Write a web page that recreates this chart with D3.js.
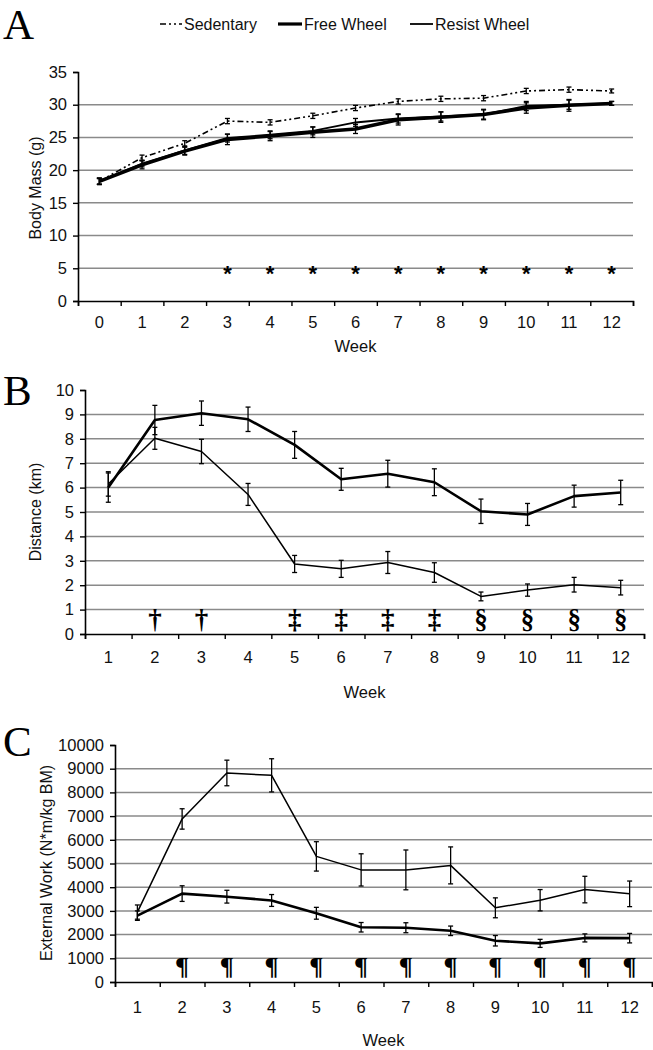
<!DOCTYPE html>
<html>
<head>
<meta charset="utf-8">
<script src="https://cdn.jsdelivr.net/npm/d3@7"></script>
<style>
  html, body { margin: 0; padding: 0; background: #fff; }
  svg { display: block; font-family: "Liberation Sans", Arial, sans-serif; }
</style>
</head>
<body>
<svg id="chart" width="653" height="1050"></svg>
<script>
// ---------- Panel A: body mass ----------
const weeksA = [0,1,2,3,4,5,6,7,8,9,10,11,12];
const sedMass    = [18.3,21.9,24.1,27.5,27.3,28.3,29.5,30.5,30.9,31.0,32.1,32.3,32.1];
const sedErr     = [0.4,0.4,0.4,0.4,0.4,0.4,0.4,0.4,0.4,0.4,0.4,0.4,0.3];
const freeMass   = [18.3,20.8,22.9,24.7,25.2,25.8,26.3,27.7,28.1,28.5,29.5,29.9,30.2];
const freeMassErr= [0.5,0.6,0.6,0.8,0.7,0.8,0.7,0.8,0.8,0.8,0.8,0.9,0.3];
const resistMass = [18.3,21.0,23.0,24.9,25.4,26.0,27.3,27.9,28.2,28.5,29.8,30.0,30.2];
const resistMassErr=[0.5,0.5,0.6,0.6,0.6,0.6,0.6,0.7,0.7,0.7,0.7,0.7,0.3];
const ticksA = [0,5,10,15,20,25,30,35];
const sigA = ["","","","*","*","*","*","*","*","*","*","*","*"];

// ---------- Panel B: distance ----------
const weeksB = [1,2,3,4,5,6,7,8,9,10,11,12];
const freeDist     = [6.0,8.77,9.05,8.8,7.75,6.34,6.57,6.22,5.03,4.9,5.65,5.8];
const freeDistErr  = [0.6,0.6,0.5,0.5,0.55,0.45,0.55,0.55,0.5,0.45,0.45,0.5];
const resistDist   = [6.15,8.02,7.48,5.72,2.87,2.67,2.93,2.52,1.54,1.8,2.02,1.9];
const resistDistErr= [0.5,0.45,0.5,0.45,0.35,0.35,0.45,0.4,0.18,0.25,0.3,0.3];
const ticksB = [0,1,2,3,4,5,6,7,8,9,10];
const sigB = ["","†","†","","‡","‡","‡","‡","§","§","§","§"];

// ---------- Panel C: external work ----------
const weeksC = [1,2,3,4,5,6,7,8,9,10,11,12];
const freeWork     = [2800,3730,3600,3440,2900,2310,2290,2160,1740,1630,1860,1850];
const freeWorkErr  = [200,330,270,250,250,200,210,200,220,170,170,200];
const resistWork   = [2950,6880,8820,8720,5300,4730,4730,4920,3130,3450,3900,3720];
const resistWorkErr= [300,430,540,700,620,680,840,780,420,450,560,540];
const ticksC = [0,1000,2000,3000,4000,5000,6000,7000,8000,9000,10000];
const sigC = ["","¶","¶","¶","¶","¶","¶","¶","¶","¶","¶","¶"];

// legend
const legendItems = ["Sedentary","Free Wheel","Resist Wheel"];

const svg = d3.select("#chart");
const FONT = '"Liberation Sans", Arial, sans-serif';
const SERIF = '"Liberation Serif", "Times New Roman", serif';
const FS = 16.5;

function panel(cfg) {
  const g = svg.append("g");
  const n = cfg.weeks.length;
  const x = d3.scaleBand().domain(cfg.weeks).range([cfg.x0, cfg.x1]).padding(0);
  const xb = d3.scaleLinear().domain([0, n]).range([cfg.x0, cfg.x1]);
  const y = d3.scaleLinear().domain([0, cfg.ymax]).range([cfg.yBottom, cfg.yTop]);

  // gridlines
  g.append("g").selectAll("line")
    .data(cfg.ticks.filter(t => t > 0 && t < cfg.ymax))
    .join("line")
    .attr("x1", cfg.x0).attr("x2", cfg.x1)
    .attr("y1", d => y(d)).attr("y2", d => y(d))
    .attr("stroke", "#8a8a8a").attr("stroke-width", 1.5);

  // y axis
  const ya = g.append("g").attr("transform", `translate(${cfg.x0},0)`)
    .call(d3.axisLeft(y).tickValues(cfg.ticks).tickSize(5).tickPadding(6).tickFormat(d3.format("d")));
  ya.select(".domain").attr("stroke", "#000").attr("stroke-width", 1.6);
  ya.selectAll(".tick line").attr("stroke", "#000").attr("stroke-width", 1.4);
  ya.selectAll("text").attr("font-size", FS).attr("font-family", FONT).attr("fill", "#111");

  // x axis: ticks at category boundaries
  const xa = g.append("g").attr("transform", `translate(0,${cfg.yBottom})`)
    .call(d3.axisBottom(xb).tickValues(d3.range(0, n + 1)).tickSize(5).tickFormat(""));
  xa.select(".domain").attr("stroke", "#000").attr("stroke-width", 1.6);
  xa.selectAll(".tick line").attr("stroke", "#000").attr("stroke-width", 1.4);
  const xl = g.append("g").attr("transform", `translate(0,${cfg.yBottom})`)
    .call(d3.axisBottom(x).tickSize(0).tickPadding(cfg.labelPad));
  xl.select(".domain").remove();
  xl.selectAll("text").attr("font-size", FS).attr("font-family", FONT).attr("fill", "#111");

  // axis titles
  g.append("text").attr("x", (cfg.x0 + cfg.x1) / 2).attr("y", cfg.weekY)
    .attr("text-anchor", "middle").attr("dominant-baseline", "central")
    .attr("font-size", FS).attr("font-family", FONT).attr("fill", "#111").text("Week");
  g.append("text").attr("transform", `translate(${cfg.ytX},${cfg.ytY}) rotate(-90)`)
    .attr("text-anchor", "middle").attr("dominant-baseline", "central")
    .attr("font-size", 16).attr("font-family", FONT).attr("fill", "#111").text(cfg.yTitle);

  // panel letter
  g.append("text").attr("x", 3).attr("y", cfg.letterY)
    .attr("font-size", 43).attr("font-family", SERIF).attr("fill", "#000").text(cfg.letter);

  // series
  const cx = w => x(w) + x.bandwidth() / 2;
  cfg.series.forEach(s => {
    const pts = cfg.weeks.map((w, i) => ({w, v: s.values[i], e: s.err[i]}));
    const line = d3.line().x(d => cx(d.w)).y(d => y(d.v));
    // error bars
    const eb = g.append("g");
    eb.selectAll("line.v").data(pts).join("line")
      .attr("x1", d => cx(d.w)).attr("x2", d => cx(d.w))
      .attr("y1", d => y(d.v - d.e)).attr("y2", d => y(d.v + d.e))
      .attr("stroke", "#000").attr("stroke-width", 1.3);
    [1, -1].forEach(sg => {
      eb.selectAll("line.c" + sg).data(pts).join("line")
        .attr("x1", d => cx(d.w) - 2.5).attr("x2", d => cx(d.w) + 2.5)
        .attr("y1", d => y(d.v + sg * d.e)).attr("y2", d => y(d.v + sg * d.e))
        .attr("stroke", "#000").attr("stroke-width", 1.3);
    });
    g.append("path").datum(pts).attr("d", line)
      .attr("fill", "none").attr("stroke", "#000")
      .attr("stroke-width", s.width)
      .attr("stroke-dasharray", s.dash || null)
      .attr("stroke-linejoin", "round");
  });

  // significance symbols
  g.append("g").selectAll("text").data(cfg.weeks.map((w, i) => ({w, s: cfg.sig[i]})).filter(d => d.s))
    .join("text")
    .attr("x", d => cx(d.w)).attr("y", cfg.sigY)
    .attr("text-anchor", "middle")
    .attr("font-size", cfg.sigSize).attr("font-weight", "bold")
    .attr("font-family", cfg.sigFont).attr("fill", "#000")
    .text(d => d.s);
}

// Panel A
panel({
  letter: "A", letterY: 39,
  weeks: weeksA, x0: 78, x1: 633, yTop: 72, yBottom: 301, ymax: 35, ticks: ticksA,
  labelPad: 15, weekY: 346, ytX: 35, ytY: 188, yTitle: "Body Mass (g)",
  series: [
    {values: sedMass, err: sedErr, width: 1.6, dash: "6,3,2,3,2,3"},
    {values: resistMass, err: resistMassErr, width: 2},
    {values: freeMass, err: freeMassErr, width: 3.5}
  ],
  sig: sigA, sigY: 281, sigSize: 22, sigFont: FONT
});

// Panel B
panel({
  letter: "B", letterY: 405,
  weeks: weeksB, x0: 85, x1: 644, yTop: 390, yBottom: 634, ymax: 10, ticks: ticksB,
  labelPad: 17, weekY: 692, ytX: 35, ytY: 512, yTitle: "Distance (km)",
  series: [
    {values: resistDist, err: resistDistErr, width: 1.5},
    {values: freeDist, err: freeDistErr, width: 2.6}
  ],
  sig: sigB, sigY: 628, sigSize: 27, sigFont: SERIF
});

// Panel C
panel({
  letter: "C", letterY: 756,
  weeks: weeksC, x0: 115, x1: 652, yTop: 745, yBottom: 982, ymax: 10000, ticks: ticksC,
  labelPad: 19, weekY: 1040, ytX: 46, ytY: 863, yTitle: "External Work (N*m/kg BM)",
  series: [
    {values: resistWork, err: resistWorkErr, width: 1.5},
    {values: freeWork, err: freeWorkErr, width: 2.6}
  ],
  sig: sigC, sigY: 975, sigSize: 26, sigFont: SERIF
});

// Legend (panel A)
const lg = svg.append("g").attr("font-family", FONT).attr("font-size", 16).attr("fill", "#111");
const legendSpec = [
  {x: 160, len: 22, w: 1.6, dash: "6,3,2,3,2,3"},
  {x: 278, len: 24, w: 3.2},
  {x: 410, len: 23, w: 1.8}
];
legendItems.forEach((name, i) => {
  const s = legendSpec[i];
  lg.append("line").attr("x1", s.x).attr("x2", s.x + s.len).attr("y1", 24).attr("y2", 24)
    .attr("stroke", "#000").attr("stroke-width", s.w).attr("stroke-dasharray", s.dash || null);
  lg.append("text").attr("x", s.x + s.len + 2).attr("y", 24).attr("dominant-baseline", "central").text(name);
});
</script>
</body>
</html>
